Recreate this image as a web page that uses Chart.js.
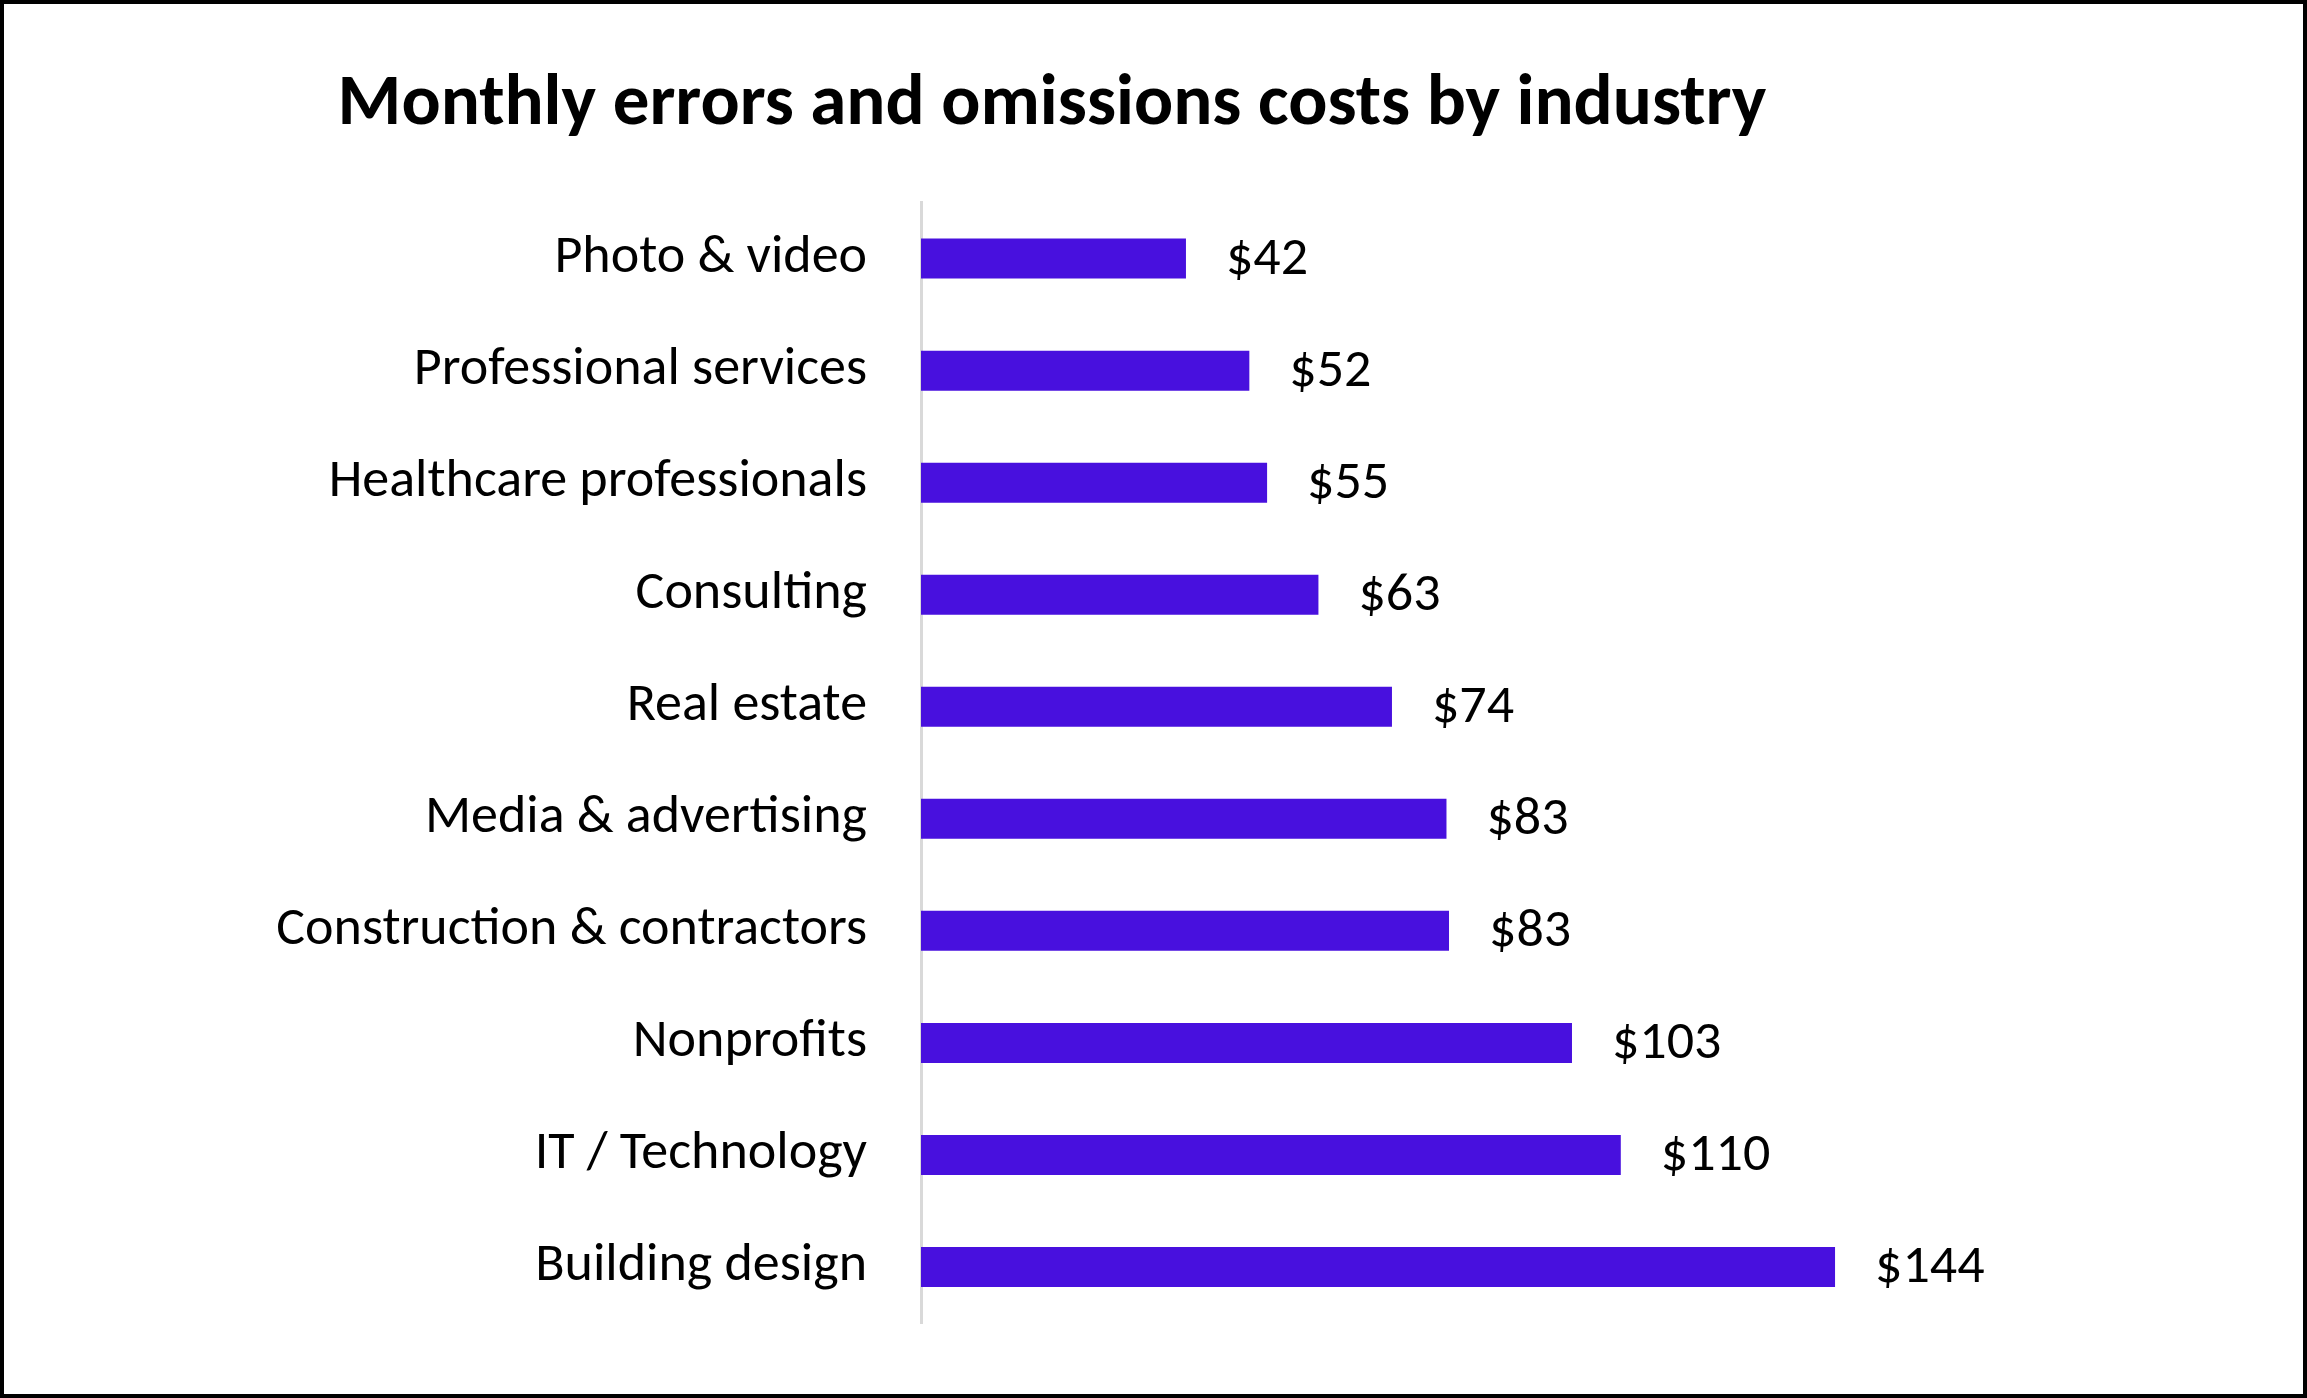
<!DOCTYPE html>
<html>
<head>
<meta charset="utf-8">
<title>Monthly errors and omissions costs by industry</title>
<script src="https://cdn.jsdelivr.net/npm/chart.js@4.4.1/dist/chart.umd.min.js"></script>
<style>
  html, body { margin: 0; padding: 0; background: #fff; }
  #frame {
    position: relative;
    width: 2307px;
    height: 1398px;
    box-sizing: border-box;
    border: 4px solid #000;
    background: #fff;
  }
  #holder {
    position: absolute;
    left: 0;
    top: 0;
    width: 2096px;
    height: 1390px;
  }
</style>
</head>
<body>
<div id="frame">
  <div id="holder"><canvas id="grafico"></canvas></div>
</div>
<script>
// datos del grafico
const industrias = [
    'Photo & video',
    'Professional services',
    'Healthcare professionals',
    'Consulting',
    'Real estate',
    'Media & advertising',
    'Construction & contractors',
    'Nonprofits',
    'IT / Technology',
    'Building design'
];
const costos = [41.8, 51.8, 54.6, 62.7, 74.3, 82.9, 83.3, 102.7, 110.4, 144.2];
const titulo = 'Monthly errors and omissions costs by industry';

const fuente = "Carlito, Calibri, Lato, 'Noto Sans', sans-serif";

// etiquetas de valor al final de cada barra
const etiquetasBarras = {
    id: 'etiquetasBarras',
    afterDatasetsDraw(chart) {
        const ctx = chart.ctx;
        const meta = chart.getDatasetMeta(0);
        ctx.save();
        ctx.font = '54px ' + fuente;
        ctx.fillStyle = '#000';
        ctx.textAlign = 'left';
        ctx.textBaseline = 'middle';
        meta.data.forEach((bar, i) => {
            ctx.fillText('$' + Math.round(costos[i]), bar.x + 40, bar.y + 2);
        });
        ctx.restore();
    }
};

new Chart(document.getElementById('grafico'), {
    type: 'bar',
    data: {
        labels: industrias,
        datasets: [{
            label: 'Monthly cost',
            data: costos,
            backgroundColor: '#4810DE',
            borderWidth: 0,
            barPercentage: 0.357,
            categoryPercentage: 1
        }]
    },
    options: {
        indexAxis: 'y',
        responsive: true,
        maintainAspectRatio: false,
        animation: false,
        layout: {
            padding: { left: 0, right: 0, top: 0, bottom: 71 }
        },
        plugins: {
            legend: { display: false },
            tooltip: { enabled: false },
            title: {
                display: true,
                text: titulo,
                color: '#000',
                font: { family: fuente, size: 73, weight: 'bold' },
                padding: { top: 58, bottom: 53 }
            }
        },
        scales: {
            x: {
                display: false,
                min: 0,
                max: 186
            },
            y: {
                grid: { display: false, drawTicks: false },
                border: { display: true, color: '#d9d9d9', width: 3 },
                ticks: {
                    color: '#000',
                    padding: 54,
                    font: { family: fuente, size: 54 }
                },
                afterFit(scale) {
                    scale.width = 917;
                    scale.paddingTop = 0;
                    scale.paddingBottom = 0;
                }
            }
        }
    },
    plugins: [etiquetasBarras]
});
</script>
</body>
</html>
